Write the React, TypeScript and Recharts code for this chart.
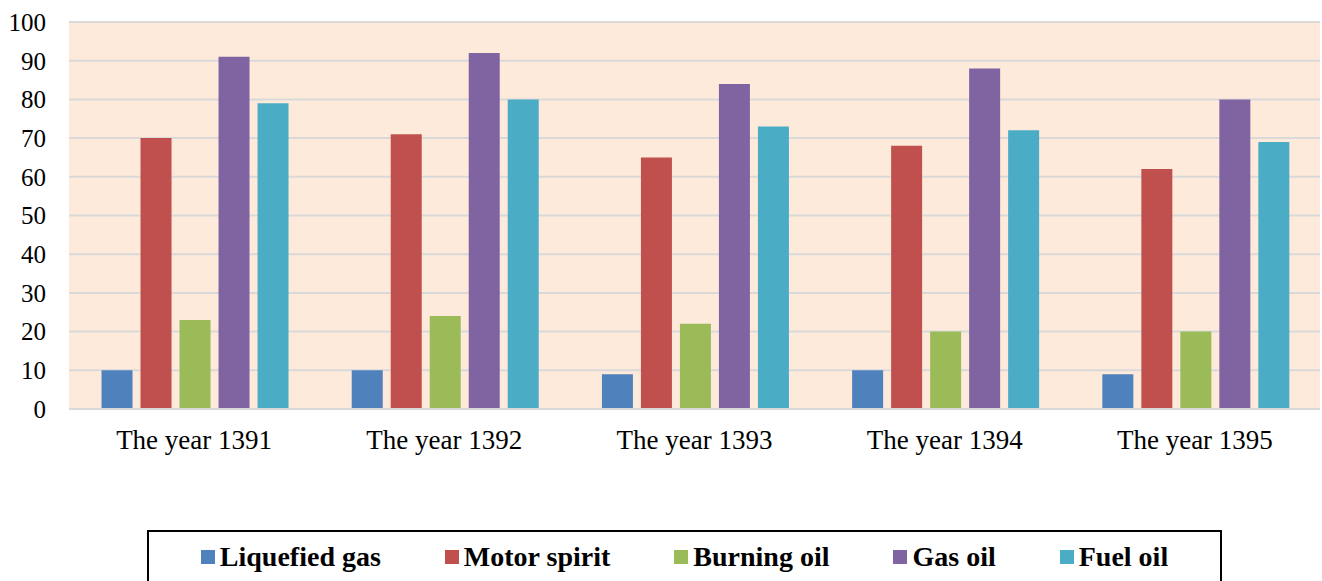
import React from 'react';
import { BarChart, Bar, XAxis, YAxis, CartesianGrid, Legend } from 'recharts';

const categories = ['The year 1391', 'The year 1392', 'The year 1393', 'The year 1394', 'The year 1395'];
const liquefiedGas = [10, 10, 9, 10, 9];
const motorSpirit = [70, 71, 65, 68, 62];
const burningOil = [23, 24, 22, 20, 20];
const gasOil = [91, 92, 84, 88, 80];
const fuelOil = [79, 80, 73, 72, 69];
const yTicks = [0, 10, 20, 30, 40, 50, 60, 70, 80, 90, 100];

const seriesDefs = [
  { key: 'liquefiedGas', name: 'Liquefied gas', color: '#4F81BD' },
  { key: 'motorSpirit', name: 'Motor spirit', color: '#C0504D' },
  { key: 'burningOil', name: 'Burning oil', color: '#9BBB59' },
  { key: 'gasOil', name: 'Gas oil', color: '#8064A2' },
  { key: 'fuelOil', name: 'Fuel oil', color: '#4BACC6' },
];

const data = categories.map((c, i) => ({
  category: c,
  liquefiedGas: liquefiedGas[i],
  motorSpirit: motorSpirit[i],
  burningOil: burningOil[i],
  gasOil: gasOil[i],
  fuelOil: fuelOil[i],
}));

const FONT = "'Liberation Serif', 'Times New Roman', Times, 'DejaVu Serif', serif";

const LegendContent = () => {
  return (
    <div
      style={{
        boxSizing: 'border-box',
        width: 1075,
        height: 54,
        border: '2px solid #000',
        display: 'flex',
        alignItems: 'center',
        justifyContent: 'center',
        fontFamily: FONT,
        fontWeight: 'bold',
        fontSize: 28,
        color: '#000',
        background: '#fff',
      }}
    >
      {seriesDefs.map((p, i) => (
        <div key={p.key} style={{ display: 'flex', alignItems: 'center', marginLeft: i === 0 ? 0 : 64 }}>
          <span style={{ display: 'inline-block', width: 14, height: 14, background: p.color, marginRight: 5 }} />
          <span>{p.name}</span>
        </div>
      ))}
    </div>
  );
};

export default function App() {
  return (
    <div style={{ position: 'absolute', left: 0, top: 0, width: 1322, height: 581, background: '#fff', overflow: 'hidden', fontFamily: FONT }}>
      <BarChart
        width={1322}
        height={581}
        data={data}
        margin={{ top: 22, right: 2, left: 0, bottom: 0 }}
        barCategoryGap="13%"
        barGap={8}
        style={{ fontFamily: FONT }}
      >
        <CartesianGrid vertical={false} stroke="#D9D9D9" strokeWidth={2} fill="#FDEADA" />
        <XAxis
          dataKey="category"
          axisLine={{ stroke: '#D9D9D9', strokeWidth: 2 }}
          tickLine={false}
          tickSize={0}
          tickMargin={21}
          height={118}
          interval={0}
          tick={{ fill: '#000', fontSize: 27, fontFamily: FONT }}
        />
        <YAxis
          domain={[0, 100]}
          ticks={yTicks}
          axisLine={false}
          tickLine={false}
          tickSize={0}
          tickMargin={23}
          width={69}
          interval={0}
          tick={{ fill: '#000', fontSize: 25, fontFamily: FONT }}
        />
        <Legend
          verticalAlign="bottom"
          content={<LegendContent />}
          wrapperStyle={{ left: 147, top: 530, bottom: 'auto', width: 1075 }}
        />
        {seriesDefs.map((s) => (
          <Bar key={s.key} dataKey={s.key} name={s.name} fill={s.color} isAnimationActive={false} />
        ))}
      </BarChart>
    </div>
  );
}
